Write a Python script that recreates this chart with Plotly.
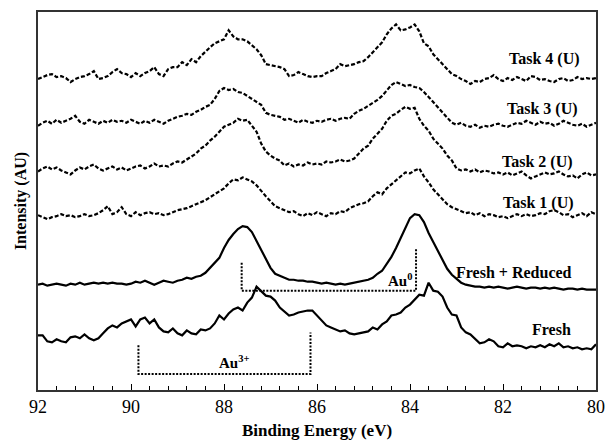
import plotly.graph_objects as go

# Binding energy grid (eV), 92.0 -> 80.0 in 0.1 eV steps
binding_energy = [round(92.0 - 0.1 * i, 1) for i in range(121)]

task4 = [313,315,317,318,315,316,314,310,313,315,
         316,318,321,313,314,316,320,323,319,318,
         315,319,316,319,321,325,318,316,323,325,
         325,330,327,333,330,336,341,345,349,351,
         353,362,356,353,353,351,347,343,337,328,
         327,326,325,323,316,317,320,318,316,315,
         316,316,319,321,323,328,326,327,328,330,
         331,335,340,345,350,358,364,368,362,363,
         365,368,361,349,346,338,333,328,323,318,
         316,313,311,308,311,310,313,314,317,313,
         311,314,312,315,313,311,316,315,312,313,
         311,310,313,314,311,312,315,313,314,313,314]

task3 = [266,269,271,268,272,269,271,273,276,270,
         268,272,270,268,271,269,272,270,271,269,
         272,270,268,271,269,272,270,268,271,273,
         275,276,278,277,280,282,285,287,293,301,
         304,302,303,300,299,296,293,290,287,279,
         277,276,275,272,273,271,269,272,270,269,
         271,270,272,273,271,273,274,273,278,281,
         283,286,289,292,296,301,307,310,308,306,
         307,305,304,300,295,290,285,279,274,269,
         267,269,266,265,267,264,266,265,267,268,
         266,265,267,269,268,271,269,267,270,268,
         269,266,268,271,269,267,266,268,265,267,269]

task2 = [220,223,225,222,224,221,219,217,221,224,
         222,225,227,223,221,223,225,222,224,221,
         223,225,226,223,225,228,225,226,225,228,
         230,229,232,235,238,243,246,251,255,260,
         265,267,269,273,271,272,266,260,248,240,
         236,233,231,226,228,225,227,226,229,227,
         228,227,230,229,230,232,230,231,233,238,
         243,246,253,258,263,271,276,278,282,285,
         283,284,273,266,261,253,248,243,236,231,
         223,221,222,220,222,219,221,220,218,219,
         217,219,216,218,220,216,213,215,217,219,
         217,218,220,217,215,216,213,217,219,216,217]

task1 = [176,174,172,174,175,177,175,176,174,175,
         177,175,176,178,181,185,177,179,184,177,
         175,179,176,178,179,177,178,176,177,179,
         181,182,183,185,187,189,191,194,197,200,
         203,208,212,211,214,212,210,206,200,195,
         190,185,183,181,179,180,177,175,178,176,
         179,177,175,178,177,180,179,183,185,187,
         188,190,195,199,197,203,207,211,215,219,
         218,221,223,215,209,202,197,192,187,184,
         182,180,178,179,176,178,175,177,176,174,
         175,173,175,177,175,177,175,176,178,177,
         180,181,179,176,177,174,176,178,175,179,177]

fresh_reduced = [106,107,105,106,107,106,105,107,106,108,
                 106,107,108,107,108,107,108,107,107,106,
                 107,109,108,110,108,106,108,110,109,108,
                 110,111,113,112,114,115,118,123,128,133,
                 143,151,157,162,165,164,159,150,141,131,
                 123,117,115,113,111,111,110,110,109,109,
                 108,107,108,107,106,107,106,107,108,109,
                 110,111,113,117,120,127,134,143,153,164,
                 173,177,176,169,158,149,140,130,122,116,
                 112,108,106,105,104,104,103,104,103,104,
                 103,102,103,104,103,102,103,103,102,103,
                 102,103,102,101,102,102,101,102,101,101,101]

fresh = [55,55,49,48,51,49,48,53,54,52,
         56,52,50,52,57,62,65,63,67,69,
         71,64,71,73,67,71,63,59,58,62,
         57,55,60,57,56,61,60,62,67,75,
         71,77,81,83,80,88,93,104,99,95,
         94,90,83,79,75,76,78,79,80,80,
         75,69,65,63,61,59,60,57,56,57,
         58,59,63,61,66,69,75,76,78,83,
         86,91,96,95,108,100,99,94,83,76,
         75,63,58,56,51,47,48,51,49,44,
         43,47,44,45,44,42,44,43,45,43,
         46,44,47,43,44,42,43,41,42,41,46]

series_names = ["Task 4 (U)", "Task 3 (U)", "Task 2 (U)", "Task 1 (U)",
                "Fresh + Reduced", "Fresh"]
series_values = [task4, task3, task2, task1, fresh_reduced, fresh]
series_dashed = [True, True, True, True, False, False]

# Reference brackets (binding energy, intensity)
au0_x = [87.62, 87.62, 83.87, 83.87]
au0_y = [128, 100, 100, 143]
au3_x = [89.84, 89.84, 86.14, 86.14]
au3_y = [45, 16, 16, 58]

label_x = [81.10, 81.16, 81.25, 81.23, 81.76, 80.95]
label_y = [333, 283, 230, 188, 118, 61]

FONT = "Liberation Serif"

fig = go.Figure()
for name, vals, dashed in zip(series_names, series_values, series_dashed):
    fig.add_trace(go.Scatter(
        x=binding_energy, y=vals, mode="lines", name=name,
        line=dict(color="black", width=2.2, dash="4px,2px" if dashed else "solid"),
        showlegend=False, hoverinfo="skip"))

for bx, by in [(au0_x, au0_y), (au3_x, au3_y)]:
    fig.add_trace(go.Scatter(
        x=bx, y=by, mode="lines",
        line=dict(color="black", width=2, dash="2px,1.5px"),
        showlegend=False, hoverinfo="skip"))

for name, lx, ly in zip(series_names, label_x, label_y):
    fig.add_annotation(x=lx, y=ly, text="<b>%s</b>" % name, showarrow=False,
                       font=dict(family=FONT, size=16, color="black"))

fig.add_annotation(x=84.22, y=111, text="<b>Au<sup>0</sup></b>", showarrow=False,
                   font=dict(family=FONT, size=15, color="black"))
fig.add_annotation(x=87.79, y=28, text="<b>Au<sup>3+</sup></b>", showarrow=False,
                   font=dict(family=FONT, size=15, color="black"))

fig.update_layout(
    width=614, height=446,
    margin=dict(l=38, r=9, t=12, b=53),
    paper_bgcolor="white", plot_bgcolor="white",
    font=dict(family=FONT, size=16, color="black"),
    xaxis=dict(
        range=[92, 80], dtick=2, tick0=80,
        ticks="inside", ticklen=6, tickwidth=1.2, tickcolor="black",
        showline=True, linecolor="#333", linewidth=1.5, mirror=True,
        showgrid=False, zeroline=False,
        tickfont=dict(family=FONT, size=18, color="black"),
        minor=dict(dtick=0.4, tick0=80, ticks="inside", ticklen=4,
                   tickwidth=1, tickcolor="black", showgrid=False),
        title=dict(text="<b>Binding Energy (eV)</b>", standoff=8,
                   font=dict(family=FONT, size=17, color="black")),
    ),
    yaxis=dict(
        range=[0, 380.5], showticklabels=False, ticks="",
        showline=True, linecolor="#333", linewidth=1.5, mirror=True,
        showgrid=False, zeroline=False,
        title=dict(text="<b>Intensity (AU)</b>", standoff=6,
                   font=dict(family=FONT, size=16, color="black")),
    ),
)

fig.write_html("out.html")
